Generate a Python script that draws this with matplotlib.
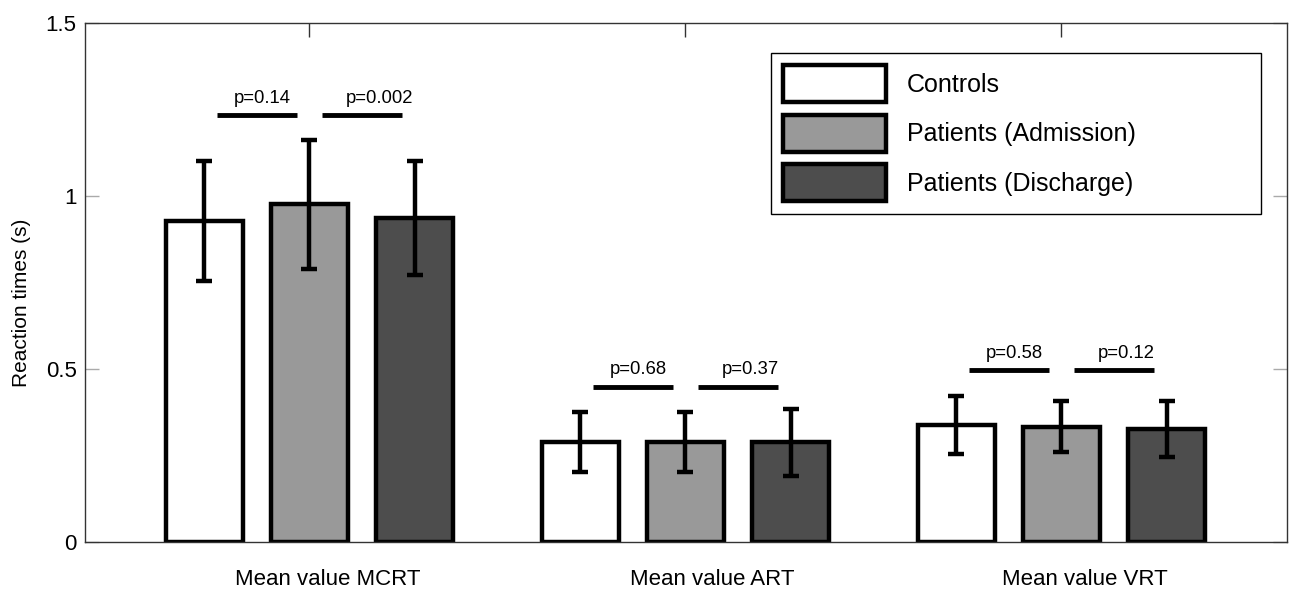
import numpy as np
import matplotlib
matplotlib.use("Agg")
import matplotlib.pyplot as plt

plt.rcParams['font.family'] = ['Liberation Sans', 'DejaVu Sans']

# data
categories = ["Mean value MCRT", "Mean value ART", "Mean value VRT"]
groups = ["Controls", "Patients (Admission)", "Patients (Discharge)"]
controls = [0.928, 0.291, 0.339]
admission = [0.976, 0.290, 0.334]
discharge = [0.937, 0.289, 0.328]
controls_sd = [0.172, 0.087, 0.084]
admission_sd = [0.186, 0.086, 0.074]
discharge_sd = [0.165, 0.096, 0.080]

# p values: (controls vs admission, admission vs discharge) per category
p_left = ["p=0.14", "p=0.68", "p=0.58"]
p_right = ["p=0.002", "p=0.37", "p=0.12"]
p_height = [1.234, 0.450, 0.498]

colors = ["white", "#999999", "#4d4d4d"]

fig = plt.figure(figsize=(13, 5.97), dpi=100)
ax = fig.add_axes([0.0654, 0.0913, 0.9246, 0.8707])

x = np.arange(1, len(categories) + 1)
step = 0.28
width = 0.205
series = [controls, admission, discharge]
sds = [controls_sd, admission_sd, discharge_sd]

for i, (vals, sd) in enumerate(zip(series, sds)):
    ax.bar(x + (i - 1) * step, vals, width, color=colors[i], edgecolor="black",
           linewidth=3.2, label=groups[i], zorder=2,
           yerr=sd, error_kw=dict(ecolor="black", elinewidth=3.2, capsize=6,
                                  capthick=3.2, zorder=3))

# significance bars
line_len = 0.213
for j in range(len(categories)):
    for k, (txt, dx) in enumerate([(p_left[j], 0.045), (p_right[j], 0.063)]):
        mid = x[j] + (k - 0.5) * step
        x0 = mid - line_len / 2
        ax.plot([x0, x0 + line_len], [p_height[j], p_height[j]], color="black",
                linewidth=3.5, solid_capstyle="butt", zorder=3)
        ax.text(x0 + dx, p_height[j] + 0.048, txt, ha="left", va="center",
                fontsize=13.3)

ax.set_xlim(0.403, 3.6)
ax.set_ylim(0, 1.5)
ax.set_yticks([0, 0.5, 1, 1.5])
ax.set_yticklabels(["0", "0.5", "1", "1.5"])
ax.set_xticks(x)
ax.set_xticklabels([])
ax.tick_params(axis="y", direction="in", length=10, width=1, color="#aaaaaa",
               labelsize=16, pad=6, right=True)
ax.tick_params(axis="x", direction="in", length=10, width=1, color="#333333",
               top=True)
for s in ax.spines.values():
    s.set_linewidth(1)
    s.set_color("#333333")

# category labels sit a little right of the tick in the original
label_dx = [0.048, 0.072, 0.062]
for xi, name, d in zip(x, categories, label_dx):
    ax.text(xi + d, -0.071, name, ha="center", va="center", fontsize=16,
            transform=ax.get_xaxis_transform())

ax.set_ylabel("Reaction times (s)", fontsize=15)
ax.yaxis.set_label_coords(-0.045, 0.462)

leg = ax.legend(loc="upper left", bbox_to_anchor=(0.5707, 0.9424, 0.4077, 0.0),
                mode="expand", borderaxespad=0, fontsize=18,
                handlelength=4.1, handleheight=1.9, handletextpad=0.85,
                labelspacing=0.5, borderpad=0.5,
                fancybox=False, framealpha=1, edgecolor="black")
leg.get_frame().set_linewidth(1)

fig.savefig("out.png", dpi=100)
